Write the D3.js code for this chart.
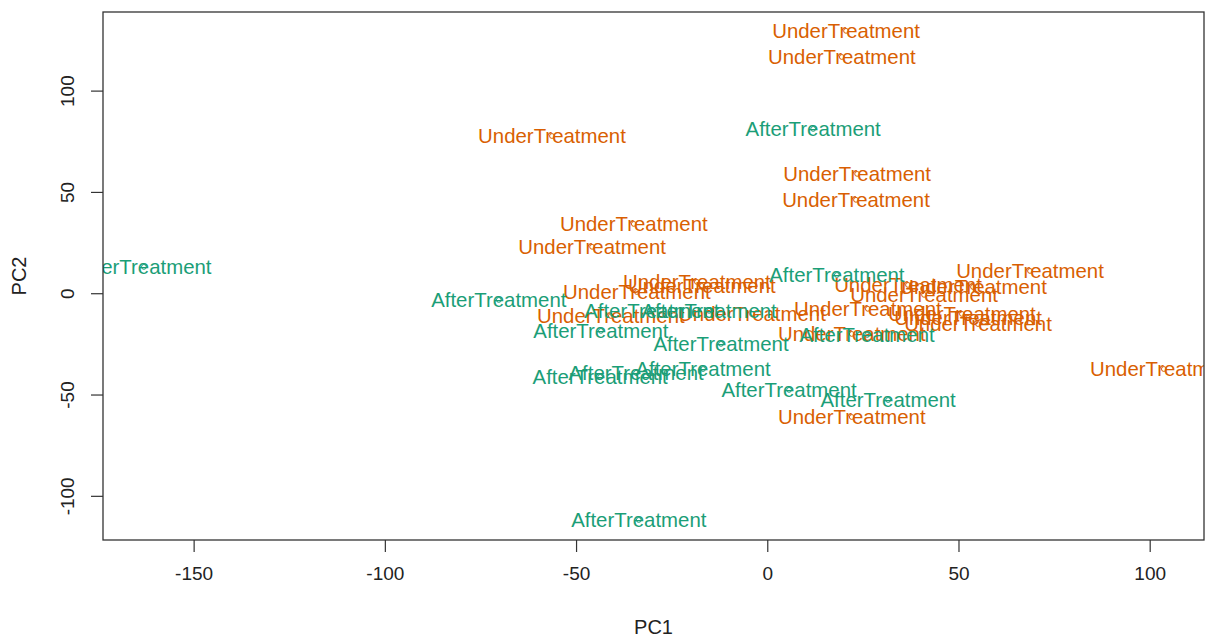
<!DOCTYPE html>
<html>
<head>
<meta charset="utf-8">
<script src="https://cdn.jsdelivr.net/npm/d3@7"></script>
<style>
  html, body { margin: 0; padding: 0; background: #fff; }
  svg { display: block; }
  text { font-family: "Liberation Sans", Arial, Helvetica, sans-serif; }
</style>
</head>
<body>
<svg id="chart" width="1210" height="637"></svg>
<script>
// PCA scores, one entry per sample, grouped by treatment status
const underPC1 = [20.6, 19.5, -56.3, 23.5, 23.2, -34.9, -45.8, 68.7, -18.4, -17.1,
                  -34.1, -40.9, -4.0, 26.3, 36.8, 53.8, 41.0, 50.9, 52.5, 55.1,
                  22.1, 103.7, 22.1];
const underPC2 = [129.5, 116.6, 77.6, 58.9, 46.1, 34.2, 22.9, 11.0, 5.6, 3.6,
                  0.6, -11.2, -10.2, -7.7, 4.1, 3.1, -0.8, -10.2, -12.2, -15.2,
                  -20.1, -37.4, -61.1];
const afterPC1 = [12.0, -163.0, 18.2, -70.2, -30.2, -15.2, -43.5, -12.1, 26.1,
                  -43.7, -34.3, -16.8, 5.7, 31.6, -33.6];
const afterPC2 = [81.1, 13.0, 9.0, -3.3, -8.7, -8.7, -18.6, -25.0, -20.6,
                  -41.3, -39.3, -37.4, -47.7, -52.7, -111.9];

const groups = ["UnderTreatment", "AfterTreatment"];
const groupColors = ["#D95F02", "#1B9E77"];

const xTicks = [-150, -100, -50, 0, 50, 100];
const yTicks = [-100, -50, 0, 50, 100];
const xDomain = [-173.7, 114.2];
const yDomain = [-121.8, 138.8];

const xTitle = "PC1";
const yTitle = "PC2";

const svg = d3.select("#chart");
const plot = { left: 103, right: 1204, top: 12, bottom: 540 };

const x = d3.scaleLinear().domain(xDomain).range([plot.left, plot.right]);
const y = d3.scaleLinear().domain(yDomain).range([plot.bottom, plot.top]);

const samples = [
  ...underPC1.map((v, i) => ({ pc1: v, pc2: underPC2[i], group: 0 })),
  ...afterPC1.map((v, i) => ({ pc1: v, pc2: afterPC2[i], group: 1 }))
];

svg.append("defs").append("clipPath").attr("id", "plotClip")
  .append("rect")
  .attr("x", plot.left).attr("y", plot.top)
  .attr("width", plot.right - plot.left).attr("height", plot.bottom - plot.top);

// sample labels with the point marker under each
const marks = svg.append("g").attr("clip-path", "url(#plotClip)");

marks.selectAll("circle.pt").data(samples).join("circle")
  .attr("class", "pt")
  .attr("cx", d => x(d.pc1))
  .attr("cy", d => y(d.pc2))
  .attr("r", 2.4)
  .attr("fill", "none")
  .attr("stroke", d => groupColors[d.group])
  .attr("stroke-width", 1);

marks.selectAll("text.lab").data(samples).join("text")
  .attr("class", "lab")
  .attr("x", d => x(d.pc1))
  .attr("y", d => y(d.pc2))
  .attr("dy", "0.36em")
  .attr("text-anchor", "middle")
  .attr("font-size", 20.4)
  .attr("fill", d => groupColors[d.group])
  .text(d => groups[d.group]);

// axes
const fmt = d => (d < 0 ? "-" + Math.abs(d) : String(d));

const xAxis = d3.axisBottom(x).tickValues(xTicks).tickSize(12).tickPadding(15)
  .tickFormat(fmt);
const yAxis = d3.axisLeft(y).tickValues(yTicks).tickSize(12)
  .tickFormat(fmt);

const gx = svg.append("g").attr("transform", `translate(0,${plot.bottom})`).call(xAxis);
gx.select(".domain").remove();
gx.selectAll("line").attr("stroke", "#333").attr("stroke-width", 1.2);
gx.selectAll("text").attr("font-size", 19).attr("fill", "#222");

const gy = svg.append("g").attr("transform", `translate(${plot.left},0)`).call(yAxis);
gy.select(".domain").remove();
gy.selectAll("line").attr("stroke", "#333").attr("stroke-width", 1.2);
// y tick labels run parallel to the axis
gy.selectAll("text")
  .attr("font-size", 19).attr("fill", "#222")
  .attr("text-anchor", "middle")
  .attr("x", 0).attr("y", 0)
  .attr("dy", "0.36em")
  .attr("transform", "translate(-36,0) rotate(-90)");

// plot frame
svg.append("rect")
  .attr("x", plot.left).attr("y", plot.top)
  .attr("width", plot.right - plot.left).attr("height", plot.bottom - plot.top)
  .attr("fill", "none").attr("stroke", "#333").attr("stroke-width", 1.3);

// axis titles
svg.append("text")
  .attr("x", (plot.left + plot.right) / 2).attr("y", 627)
  .attr("dy", "0.36em")
  .attr("text-anchor", "middle").attr("font-size", 20).attr("fill", "#222")
  .text(xTitle);

svg.append("text")
  .attr("transform", `translate(19,${(plot.top + plot.bottom) / 2}) rotate(-90)`)
  .attr("dy", "0.36em")
  .attr("text-anchor", "middle").attr("font-size", 20).attr("fill", "#222")
  .text(yTitle);
</script>
</body>
</html>
